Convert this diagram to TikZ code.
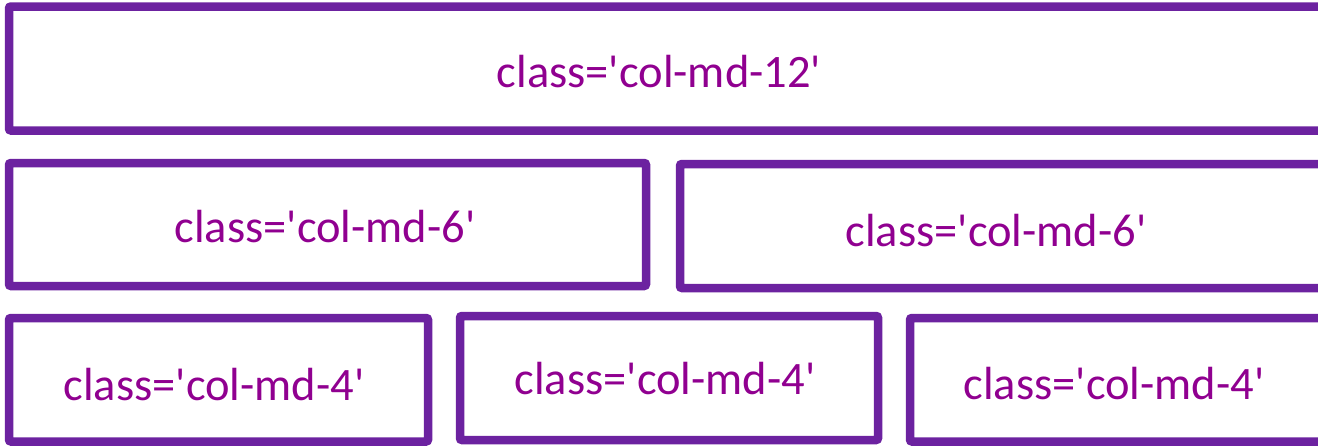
\documentclass[tikz,border=0pt]{standalone}
\usepackage{fontspec}
\newfontfamily\labelfont{Carlito}
\definecolor{boxline}{RGB}{108,34,160}
\definecolor{labeltext}{RGB}{144,0,144}
\newcommand{\sq}{\textquotesingle}
\begin{document}
\begin{tikzpicture}[x=1pt,y=-1pt,
  colbox/.style={draw=boxline, line width=8.5pt, rounded corners=2pt, rectangle, inner sep=0pt, outer sep=0pt},
  collabel/.style={text=labeltext, anchor=base, inner sep=0pt, font=\labelfont\fontsize{46.5}{55}\selectfont}]
\useasboundingbox (0,0) rectangle (1318,445);
\node[colbox, minimum width=1317pt, minimum height=124pt] (b1) at (667.5,68.5) {};
\node[colbox, minimum width=637pt, minimum height=123pt] (b2) at (327.5,224.5) {};
\node[colbox, minimum width=646pt, minimum height=124pt] (b3) at (1003,226) {};
\node[colbox, minimum width=419pt, minimum height=123.5pt] (b4) at (218.5,379.75) {};
\node[colbox, minimum width=418pt, minimum height=124pt] (b5) at (669,378) {};
\node[colbox, minimum width=420pt, minimum height=123.5pt] (b6) at (1120,379.75) {};
\node[collabel] (t1) at (659,87) {class=\sq col-md-12\sq};
\node[collabel] (t2) at (325,242) {class=\sq col-md-6\sq};
\node[collabel] (t3) at (996,246) {class=\sq col-md-6\sq};
\node[collabel] (t4) at (214,400) {class=\sq col-md-4\sq};
\node[collabel] (t5) at (665,394) {class=\sq col-md-4\sq};
\node[collabel] (t6) at (1114,399) {class=\sq col-md-4\sq};
\end{tikzpicture}
\end{document}
